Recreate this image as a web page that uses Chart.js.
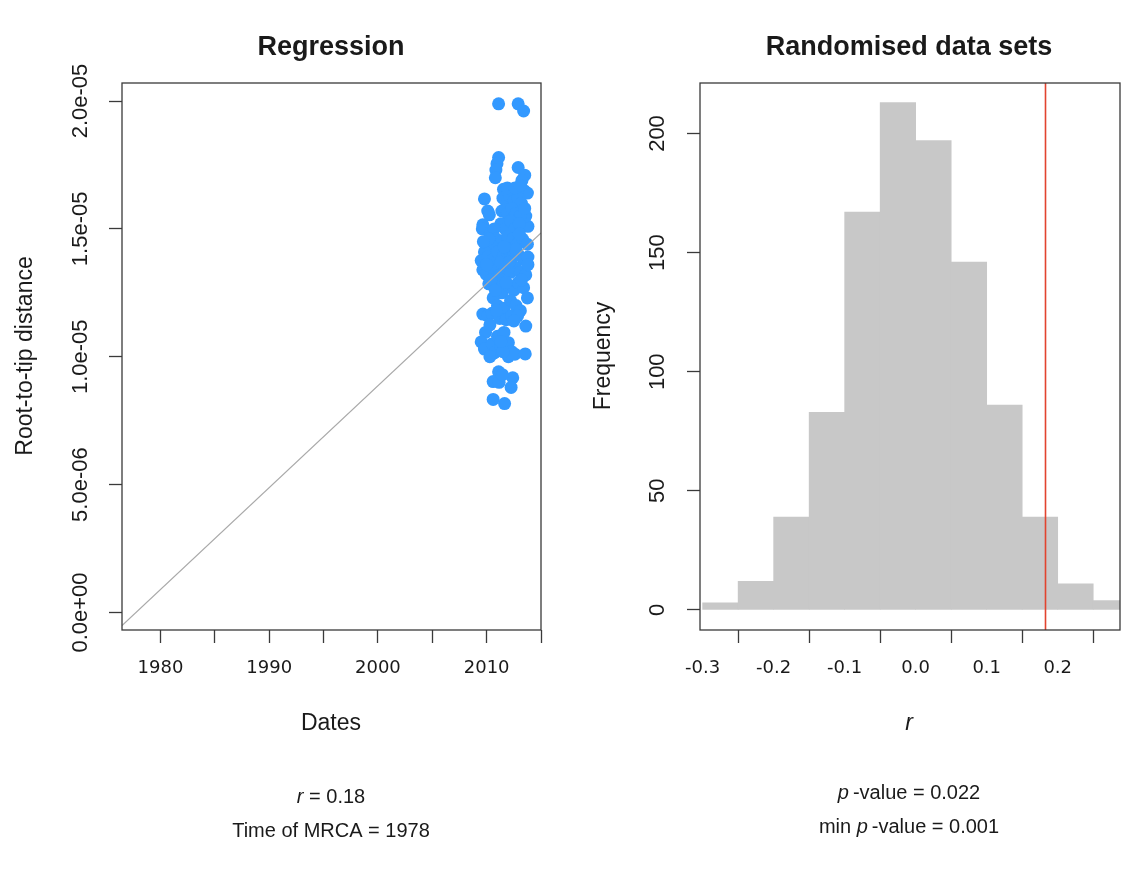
<!DOCTYPE html>
<html>
<head>
<meta charset="utf-8">
<title>Root-to-tip regression</title>
<script src="https://cdn.jsdelivr.net/npm/chart.js@4.4.1/dist/chart.umd.min.js"></script>
<style>
    body { margin: 0; background: #fff; }
    #wrap { position: relative; width: 1143px; height: 880px; }
    canvas { position: absolute; top: 0; }
</style>
</head>
<body>
<div id="wrap">
    <canvas id="regChart" width="571" height="880" style="left:0"></canvas>
    <canvas id="histChart" width="572" height="880" style="left:571px"></canvas>
</div>
<script>
// ---- data: regression panel ----
const tipDates = [
    2011.1, 2012.9, 2013.4,
    2011.1, 2010.95, 2010.85, 2010.8, 2012.9, 2013.5, 2013.25, 2013.45, 2011.55, 2012.3, 2013.75,
    2009.8, 2010.1, 2010.25, 2009.65, 2009.6, 2010.35, 2013.8, 2013.6,
    2011.5, 2011.85, 2012.1, 2012.5, 2012.9, 2013.2, 2011.4, 2011.9, 2012.3, 2012.7, 2013.1, 2013.5,
    2011.3, 2011.7, 2012.2, 2012.6, 2013.0, 2010.7, 2010.9, 2011.4, 2011.9, 2012.4, 2012.8, 2013.3, 2013.75,
    2010.5, 2009.8, 2009.5, 2009.65, 2010.1, 2010.6, 2011.0, 2011.5, 2012.0, 2012.4, 2012.9, 2013.4, 2013.8,
    2009.97, 2010.7, 2011.2, 2011.7, 2012.2, 2012.6, 2013.1, 2013.6, 2013.8,
    2010.2, 2011.0, 2011.4, 2012.0, 2012.5, 2012.9, 2013.4, 2013.75,
    2010.6, 2011.0, 2011.6, 2012.2, 2012.7, 2013.1,
    2009.65, 2010.1, 2010.5, 2011.2, 2011.8, 2012.3, 2012.85, 2013.6, 2010.3,
    2009.9, 2009.5, 2009.8, 2010.5, 2010.7, 2011.0, 2011.3, 2011.6, 2012.0, 2012.3, 2012.0, 2012.6, 2010.3, 2013.55, 2011.5,
    2011.1, 2010.6, 2011.15, 2012.4, 2012.25, 2010.6, 2011.65, 2011.45,
    2010.2, 2010.0, 2009.7, 2010.4, 2011.3, 2011.8, 2012.1, 2012.7, 2013.2,
    2013.0, 2011.6, 2010.8, 2011.9, 2012.6, 2013.1, 2010.9, 2012.5, 2011.3
];
// root-to-tip distances, in units of 1e-6
const tipDistances = [
    19.89, 19.89, 19.61,
    17.79, 17.55, 17.3, 17.0, 17.4, 17.1, 16.9, 16.5, 16.55, 16.5, 16.4,
    16.17, 15.7, 15.55, 15.16, 15.0, 14.85, 15.1, 15.5,
    16.2, 16.0, 16.3, 16.1, 16.2, 16.0, 15.7, 15.6, 15.8, 15.6, 15.5, 15.8,
    15.2, 15.0, 15.3, 15.0, 15.2, 15.0, 14.6, 14.5, 14.7, 14.6, 14.4, 14.6, 14.4,
    14.3, 14.1, 13.76, 13.4, 13.9, 13.8, 14.1, 13.9, 14.2, 13.9, 14.0, 13.8, 13.9,
    13.22, 13.4, 13.2, 13.5, 13.3, 13.5, 13.3, 13.2, 13.6,
    12.85, 12.75, 12.5, 12.8, 12.6, 12.9, 12.7, 12.3,
    12.3, 12.0, 11.9, 12.2, 12.0, 11.8,
    11.67, 11.6, 11.7, 11.5, 11.45, 11.6, 11.6, 11.2, 11.25,
    10.95, 10.58, 10.3, 10.5, 10.15, 10.8, 10.4, 10.95, 10.55, 10.2, 10.0, 10.1, 10.0, 10.11, 10.2,
    9.41, 9.03, 9.0, 9.18, 8.8, 8.33, 8.17, 9.3,
    14.6, 13.6, 14.5, 13.0, 13.7, 12.9, 13.7, 14.2, 13.0,
    14.8, 14.3, 12.6, 16.6, 16.6, 16.7, 11.8, 11.4, 10.6
];
// fitted line end points (date, distance)
const fitDates = [1976.46, 2015.0];
const fitDistances = [-5.1e-7, 1.484e-5];

const regXTicks = [1980, 1985, 1990, 1995, 2000, 2005, 2010, 2015];
const regXLabels = ['1980', '', '1990', '', '2000', '', '2010', ''];
const regYTicks = [0, 5e-6, 1e-5, 1.5e-5, 2e-5];
const regYLabels = ['0.0e+00', '5.0e-06', '1.0e-05', '1.5e-05', '2.0e-05'];

// ---- data: randomised panel ----
const histBreaks = [-0.3, -0.25, -0.2, -0.15, -0.1, -0.05, 0, 0.05, 0.1, 0.15, 0.2, 0.25, 0.3];
const histCounts = [3, 12, 39, 83, 167, 213, 197, 146, 86, 39, 11, 4];
const observedR = 0.1828;

const histXTicks = [-0.3, -0.2, -0.1, 0, 0.1, 0.2];
const histXLabels = ['-0.3', '-0.2', '-0.1', '0.0', '0.1', '0.2'];
const histYTicks = [0, 50, 100, 150, 200];
const histYLabels = ['0', '50', '100', '150', '200'];

Chart.defaults.font.family = "'Liberation Sans', Arial, sans-serif";
Chart.defaults.color = '#1a1a1a';

const INK = '#1a1a1a';
const AXIS = '#3a3a3a';

// draw text made of plain / italic runs, centred on cx
function drawRuns(ctx, runs, cx, y, size) {
    let total = 0;
    runs.forEach(r => {
        ctx.font = (r.italic ? 'italic ' : '') + size + "px 'Liberation Sans', Arial, sans-serif";
        r.w = ctx.measureText(r.text).width + (r.gap || 0);
        total += r.w;
    });
    let x = cx - total / 2;
    ctx.textAlign = 'left';
    ctx.textBaseline = 'alphabetic';
    runs.forEach(r => {
        ctx.font = (r.italic ? 'italic ' : '') + size + "px 'Liberation Sans', Arial, sans-serif";
        ctx.fillText(r.text, x + (r.gap || 0), y);
        x += r.w;
    });
}

function rotatedText(ctx, text, x, y, font) {
    ctx.save();
    ctx.translate(x, y);
    ctx.rotate(-Math.PI / 2);
    ctx.font = font;
    ctx.textAlign = 'center';
    ctx.textBaseline = 'middle';
    ctx.fillText(text, 0, 0);
    ctx.restore();
}

// frame, titles, rotated y labels and notes (R style)
function panelDecor(cfg) {
    return {
        id: 'panelDecor',
        afterDatasetsDraw(chart) {
            if (cfg.vline === undefined) return;
            const { ctx, chartArea, scales } = chart;
            const px = scales.x.getPixelForValue(cfg.vline);
            ctx.save();
            ctx.strokeStyle = '#e2442f';
            ctx.lineWidth = 1.6;
            ctx.beginPath();
            ctx.moveTo(px, chartArea.top);
            ctx.lineTo(px, chartArea.bottom);
            ctx.stroke();
            ctx.restore();
        },
        afterDraw(chart) {
            const { ctx, chartArea, scales } = chart;
            ctx.save();
            ctx.strokeStyle = AXIS;
            ctx.lineWidth = 1.3;
            ctx.strokeRect(chartArea.left, chartArea.top,
                chartArea.right - chartArea.left, chartArea.bottom - chartArea.top);

            ctx.fillStyle = INK;
            // y tick labels, rotated like R's las=0
            cfg.yTicks.forEach((v, i) => {
                rotatedText(ctx, cfg.yLabels[i], cfg.yTickX, scales.y.getPixelForValue(v),
                    "22px 'Liberation Sans', Arial, sans-serif");
            });
            rotatedText(ctx, cfg.yTitle, cfg.yTitleX, 356, "23px 'Liberation Sans', Arial, sans-serif");

            // main title
            ctx.font = "bold 27px 'Liberation Sans', Arial, sans-serif";
            ctx.textAlign = 'center';
            ctx.textBaseline = 'alphabetic';
            ctx.fillText(cfg.title, cfg.cx, 55);

            drawRuns(ctx, cfg.xTitle, cfg.cx, 730, 23);
            cfg.notes.forEach(n => drawRuns(ctx, n.runs, cfg.cx, n.y, 20));
            ctx.restore();
        }
    };
}

function tickScale(values, labels, extra) {
    return Object.assign({
        type: 'linear',
        afterBuildTicks: scale => { scale.ticks = values.map(v => ({ value: v })); },
        border: { display: false },
        grid: {
            drawOnChartArea: false,
            drawTicks: true,
            tickLength: 13,
            tickColor: AXIS,
            tickWidth: 1.3
        }
    }, extra);
}

function xAxis(min, max, values, labels) {
    return tickScale(values, labels, {
        min: min,
        max: max,
        offset: false,
        afterFit: scale => { scale.height = 250; },
        ticks: {
            autoSkip: false,
            maxRotation: 0,
            padding: 15,
            color: INK,
            font: { family: "'DejaVu Sans', sans-serif", size: 18 },
            callback: (v, i) => labels[i]
        }
    });
}

function yAxis(min, max, values, labels, width) {
    return tickScale(values, labels, {
        min: min,
        max: max,
        afterFit: scale => { scale.width = width; },
        ticks: { display: false }
    });
}

const baseOptions = {
    responsive: false,
    animation: false,
    devicePixelRatio: 1,
    events: [],
    plugins: { legend: { display: false }, tooltip: { enabled: false } }
};

// ---- left: regression ----
new Chart(document.getElementById('regChart'), {
    type: 'scatter',
    data: {
        datasets: [{
            type: 'line',
            data: fitDates.map((d, i) => ({ x: d, y: fitDistances[i] })),
            borderColor: '#a9a9a9',
            borderWidth: 1.2,
            pointRadius: 0,
            showLine: true,
            clip: 0
        }, {
            data: tipDates.map((d, i) => ({ x: d, y: tipDistances[i] * 1e-6 })),
            pointRadius: 6.5,
            pointBorderWidth: 0,
            pointBackgroundColor: '#3399ff',
            clip: 0
        }]
    },
    options: Object.assign({}, baseOptions, {
        layout: { padding: { top: 83, right: 30, left: 0, bottom: 0 } },
        scales: {
            x: xAxis(1976.46, 2015.0, regXTicks, regXLabels),
            y: yAxis(-6.84e-7, 2.0704e-5, regYTicks, regYLabels, 122)
        }
    }),
    plugins: [panelDecor({
        title: 'Regression',
        cx: 331,
        yTicks: regYTicks,
        yLabels: regYLabels,
        yTickX: 81,
        yTitle: 'Root-to-tip distance',
        yTitleX: 26,
        xTitle: [{ text: 'Dates' }],
        notes: [
            { y: 803, runs: [{ text: 'r', italic: true }, { text: ' = 0.18' }] },
            { y: 837, runs: [{ text: 'Time of MRCA = 1978' }] }
        ]
    })]
});

// ---- right: randomised data sets ----
const histMids = histCounts.map((c, i) => (histBreaks[i] + histBreaks[i + 1]) / 2);

new Chart(document.getElementById('histChart'), {
    type: 'bar',
    data: {
        datasets: [{
            data: histMids.map((m, i) => ({ x: m, y: histCounts[i] })),
            backgroundColor: '#c8c8c8',
            borderWidth: 0,
            barPercentage: 1,
            categoryPercentage: 1,
            clip: 0
        }]
    },
    options: Object.assign({}, baseOptions, {
        layout: { padding: { top: 83, right: 23, left: 0, bottom: 0 } },
        scales: {
            x: xAxis(-0.3037, 0.2877, histXTicks, histXLabels),
            y: yAxis(-8.4, 221.2, histYTicks, histYLabels, 129)
        }
    }),
    plugins: [panelDecor({
        title: 'Randomised data sets',
        cx: 338,
        yTicks: histYTicks,
        yLabels: histYLabels,
        yTickX: 87,
        yTitle: 'Frequency',
        yTitleX: 33,
        xTitle: [{ text: 'r', italic: true }],
        vline: observedR,
        notes: [
            { y: 799, runs: [{ text: 'p', italic: true }, { text: '-value = 0.022', gap: 4 }] },
            { y: 833, runs: [{ text: 'min ' }, { text: 'p', italic: true }, { text: '-value = 0.001', gap: 4 }] }
        ]
    })]
});
</script>
</body>
</html>
